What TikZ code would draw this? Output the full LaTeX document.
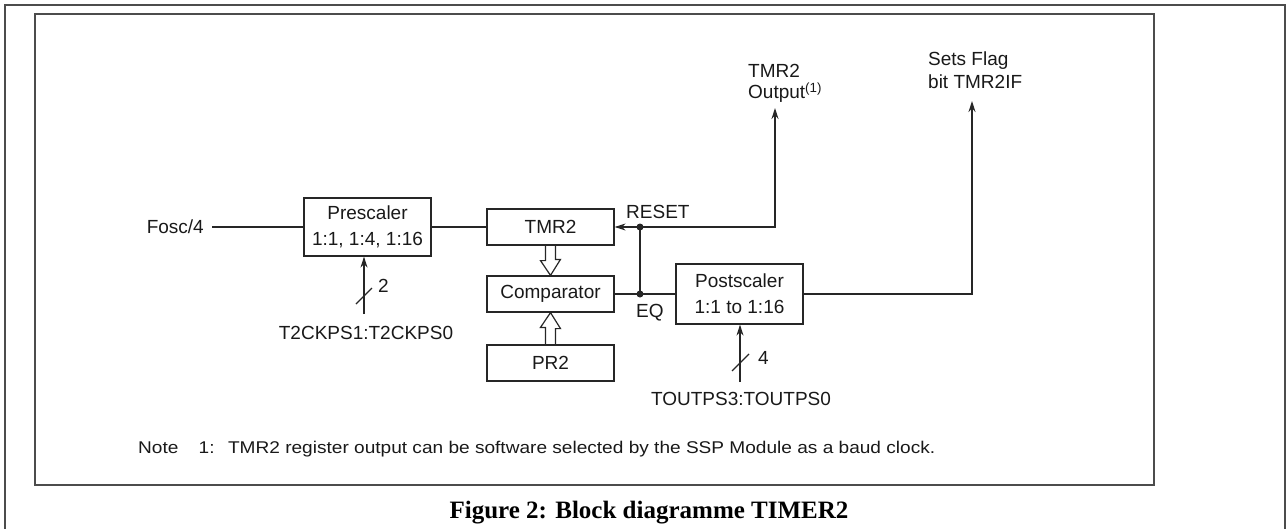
\documentclass[tikz,border=0pt]{standalone}
\usepackage{fontspec}
\setmainfont{Liberation Sans}
\newfontfamily\capfont{Liberation Serif}
\usepackage{graphicx}
\usetikzlibrary{arrows.meta,calc}
\begin{document}
\begin{tikzpicture}[x=1pt,y=-1pt,
  lab/.style={font=\fontsize{19}{22}\selectfont, inner sep=0pt, text=black!90},
  blk/.style={draw=black!85, line width=1.2pt, minimum width=127pt, inner sep=0pt, align=center, font=\fontsize{19}{26}\selectfont, text=black!90},
  wire/.style={line width=1.2pt, draw=black!85},
  arr/.style={wire, -{Stealth[length=11pt,width=7pt]}},
  hollow/.style={draw=black!85, line width=1.2pt, line join=miter},
  frame/.style={line width=1.6pt, draw=black!70},
  jdot/.style={circle, fill=black!85, inner sep=0pt, minimum size=7pt}
]
\useasboundingbox (0,0) rectangle (1288,528);
\draw[frame] (5,540) -- (5,5) -- (1285,5) -- (1285,540);
\draw[frame] (35,14) rectangle (1154,485);

% blocks
\node[blk, minimum height=58pt] (pre) at (367.5,227) {Prescaler\\1:1, 1:4, 1:16};
\node[blk, minimum height=36pt] (tmr) at (550.5,227) {TMR2};
\node[blk, minimum height=36pt] (cmp) at (550.5,294) {Comparator};
\node[blk, minimum height=36pt] (pr) at (550.5,363) {PR2};
\node[blk, minimum height=60pt] (post) at (739.5,294) {Postscaler\\1:1 to 1:16};

% input
\node[lab, anchor=east] (fosc) at (204,227) {Fosc/4};
\coordinate (fo) at (212,227);
\draw[wire] (fo) -- (pre.west);
\draw[wire] (pre.east) -- (tmr.west);

% junctions
\coordinate (rj) at (640,227);
\coordinate (eqj) at (640,294);
\coordinate (outc) at (775,227);
\coordinate (outtip) at (775,108);
\coordinate (fc) at (972,294);
\coordinate (ftip) at (972,101);
\draw[wire] (cmp.east) -- (post.west);
\draw[arr] (eqj) -- (rj) -- (tmr.east);
\draw[arr] (rj) -- (outc) -- (outtip);
\draw[arr] (post.east) -- (fc) -- (ftip);
\node[jdot] (d1) at (rj) {};
\node[jdot] (d2) at (eqj) {};

\node[lab, anchor=base west] (reset) at (626,218) {RESET};
\node[lab, anchor=base west] (eq) at (636,317) {EQ};
\node[lab, anchor=north west, align=left, font=\fontsize{19}{21}\selectfont] (tout) at (748,64) {TMR2\\Output\textsuperscript{(1)}};
\node[lab, anchor=north west, align=left, font=\fontsize{19}{23}\selectfont] (flag) at (928,52) {Sets Flag\\bit TMR2IF};

% hollow bus arrows
\draw[hollow] ([xshift=-5pt]tmr.south) -- ++(0,15) -- ++(-5,0) -- (cmp.north) -- ++(10,-16) -- ++(-5,0) -- ++(0,-15);
\draw[hollow] ([xshift=-5pt]pr.north) -- ++(0,-17) -- ++(-5,0) -- (cmp.south) -- ++(10,16) -- ++(-5,0) -- ++(0,17);

% prescaler select
\coordinate (c1) at (364,314);
\draw[arr] (c1) -- (c1 |- pre.south);
\draw[wire] (356,304) -- (372,288);
\node[lab, anchor=west] (n2) at (378,286) {2};
\node[lab] (t2) at (366,333) {T2CKPS1:T2CKPS0};

% postscaler select
\coordinate (c2) at (740,382);
\draw[arr] (c2) -- (c2 |- post.south);
\draw[wire] (732,371) -- (749,354);
\node[lab, anchor=west] (n4) at (758,358) {4};
\node[lab] (tp) at (741,399) {TOUTPS3:TOUTPS0};

% note and caption
\node[lab, anchor=west] (note) at (138,449) {\fontsize{17}{20}\selectfont\resizebox{797pt}{\height}{Note\hspace{18pt}1:\hspace{12pt}TMR2 register output can be software selected by the SSP Module as a baud clock.}};
\node[inner sep=0pt, font=\capfont\bfseries\fontsize{25}{30}\selectfont] (cap) at (649,513) {Figure 2: Block diagramme TIMER2};
\end{tikzpicture}
\end{document}
